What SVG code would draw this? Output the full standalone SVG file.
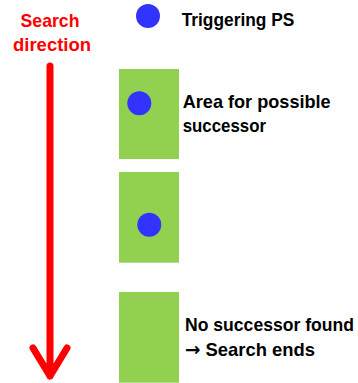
<svg xmlns="http://www.w3.org/2000/svg" width="358" height="383" viewBox="0 0 358 383">
<style>
.t{font-family:"Liberation Sans","Open Sans",Arial,sans-serif;font-weight:bold;font-size:19px;fill:#000}
.r{fill:#ff0000;text-anchor:middle}
.ar{font-family:"DejaVu Sans",sans-serif;font-weight:bold}
.area{fill:#92d050}
.ps{fill:#3333ff}
</style>
<rect width="358" height="383" fill="#fff"/>
<g id="search-direction">
<text class="t r" x="50" y="26.7" textLength="59" lengthAdjust="spacingAndGlyphs">Search</text>
<text class="t r" x="52" y="50.7" textLength="78" lengthAdjust="spacingAndGlyphs">direction</text>
</g>
<g id="connectors">
<path d="M50 66 V376 M33 348 L50 376 L67 348" fill="none" stroke="#ff0000" stroke-width="7" stroke-linecap="round" stroke-linejoin="round"/>
</g>
<g id="triggering-ps">
<circle class="ps" cx="148" cy="16" r="12"/>
<text class="t" x="181.7" y="26" textLength="112.6" lengthAdjust="spacingAndGlyphs">Triggering PS</text>
</g>
<g id="area1">
<rect class="area" x="119" y="69" width="60" height="90"/>
<circle class="ps" cx="139.3" cy="103.3" r="12"/>
<text class="t" x="182.7" y="107.7" textLength="148" lengthAdjust="spacingAndGlyphs">Area for possible</text>
<text class="t" x="182.7" y="131.7" textLength="83.3" lengthAdjust="spacingAndGlyphs">successor</text>
</g>
<g id="area2">
<rect class="area" x="119" y="172" width="60" height="90.7"/>
<circle class="ps" cx="149.3" cy="224.7" r="12"/>
</g>
<g id="area3">
<rect class="area" x="119" y="292" width="60" height="90.7"/>
<text class="t" x="185" y="331" textLength="169" lengthAdjust="spacingAndGlyphs">No successor found</text>
<text class="t" x="185" y="356" textLength="130" lengthAdjust="spacingAndGlyphs"><tspan class="ar">→</tspan> Search ends</text>
</g>
</svg>
